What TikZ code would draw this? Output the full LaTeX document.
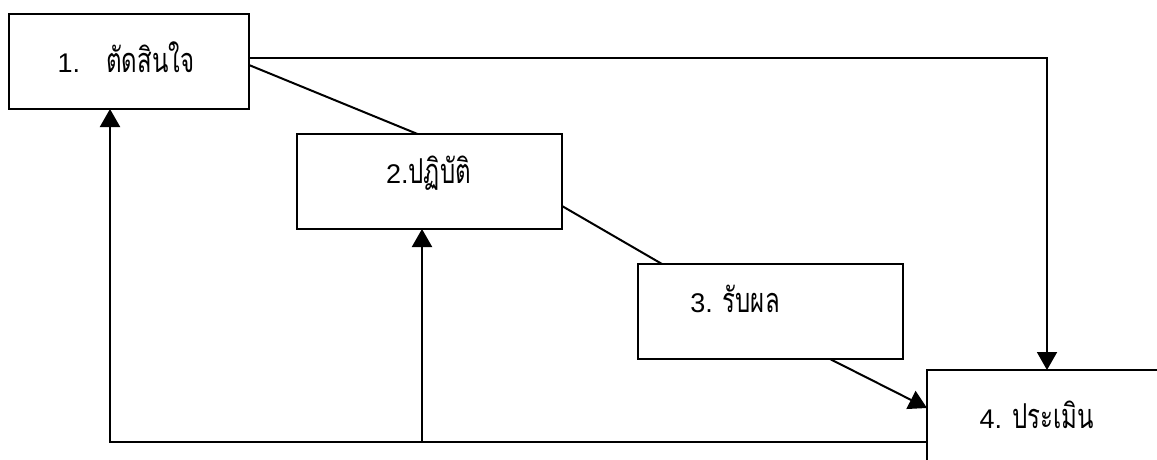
\documentclass[tikz,border=0pt]{standalone}
\usepackage{fontspec}
\setmainfont{Liberation Sans}
\newfontfamily\thaifont[Script=Thai,FakeStretch=0.7,Scale=1.27]{Loma}
\usetikzlibrary{calc,arrows.meta}

\begin{document}
\begin{tikzpicture}[x=1pt,y=-1pt,line width=2pt,
	box/.style={draw,rectangle,inner sep=0pt,outer sep=0pt},
	txt/.style={anchor=base,inner sep=0pt,font=\fontsize{27}{30}\selectfont},
	arr/.style={-{Triangle[width=20pt,length=18pt]}}]
\useasboundingbox (0,0) rectangle (1157,460);
\clip (0,0) rectangle (1157,460);

%boxes
\node[box,minimum width=240pt,minimum height=95pt](b1) at (129,61.5){};
\node[box,minimum width=265pt,minimum height=95pt](b2) at (429.5,181.5){};
\node[box,minimum width=265pt,minimum height=95pt](b3) at (770.5,311.5){};
\node[box,minimum width=240pt,minimum height=115pt](b4) at (1047,427.5){};

%texts
\node[txt](t1) at (126,73){1.\hspace{26pt}\thaifont ตัดสินใจ};
\node[txt](t2) at (428.5,183){2.\thaifont ปฏิบัติ};
\node[txt](t3) at (735,312){3. \thaifont รับผล};
\node[txt](t4) at (1036.5,428){4. \thaifont ประเมิน};

%1 -> 2 -> 3
\draw (b1.east)++(0,3.5)--($(b2.north)+(-12,0)$);
\draw ($(b2.east)+(0,24.5)$)--($(b3.north)+(-108.5,0)$);
%3 -> 4
\draw[arr] ($(b3.south)+(59.5,0)$)--($(b4.west)+(0,-19.5)$);
%1 -> 4
\draw[arr] ($(b1.east)+(0,-3.5)$)-|(b4.north);

%4 -> 1, 4 -> 2
\coordinate (j) at ($(b2.south)+(-7.5,213)$);
\draw[arr] ($(b4.west)+(0,14.5)$)-|($(b1.south)+(-19,0)$);
\draw[arr] (j)--($(b2.south)+(-7.5,0)$);

\end{tikzpicture}
\end{document}
